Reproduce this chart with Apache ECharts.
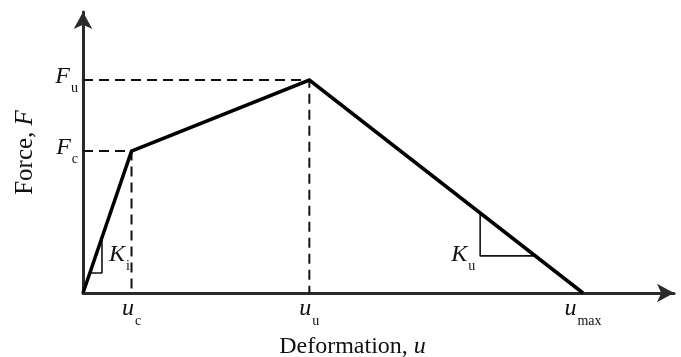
<!DOCTYPE html>
<html>
<head>
<meta charset="utf-8">
<script src="https://cdn.jsdelivr.net/npm/echarts@6/dist/echarts.min.js"></script>
<style>
  html, body { margin: 0; padding: 0; background: #fff; }
  #chart { width: 681px; height: 357px; }
</style>
</head>
<body>
<div id="chart"></div>
<script>
// Trilinear force–deformation backbone (schematic units, axes run 0–100)
const deformation = [0, 8.21, 38.3, 84.6];      // 0, u_c, u_u, u_max
const force       = [0, 50.5, 75.8, 0];         // 0, F_c, F_u, 0

// Characteristic points named on the axes
const xTickValues = [8.21, 38.3, 84.6];
const xTickNames  = [['u', 'c'], ['u', 'u'], ['u', 'max']];
const yTickValues = [50.5, 75.8];
const yTickNames  = [['F', 'c'], ['F', 'u']];

// Slope triangles: corner point, curve segment index, label
const slopeCornerX = [3.21, 67.2];
const slopeCornerY = [7.12, 13.2];
const slopeSegment = [0, 2];
const slopeNames   = [['K', 'i'], ['K', 'u']];

const FONT = 'Liberation Serif, Times New Roman, serif';
const INK = '#111';

// linear interpolation along one segment of the backbone
function yOnSegment(seg, x) {
  const x0 = deformation[seg], x1 = deformation[seg + 1];
  const y0 = force[seg], y1 = force[seg + 1];
  return y0 + (y1 - y0) * (x - x0) / (x1 - x0);
}
function xOnSegment(seg, y) {
  const x0 = deformation[seg], x1 = deformation[seg + 1];
  const y0 = force[seg], y1 = force[seg + 1];
  return x0 + (x1 - x0) * (y - y0) / (y1 - y0);
}

const backbone = deformation.map((x, i) => [x, force[i]]);

// dashed guides from each characteristic point to both axes
const guideSeries = [];
for (let i = 1; i <= 2; i++) {
  guideSeries.push({
    type: 'line', silent: true, symbol: 'none', z: 2,
    lineStyle: { color: INK, width: 2, type: [10, 6] },
    data: [[0, force[i]], [deformation[i], force[i]], [deformation[i], 0]]
  });
}

// slope triangles
const triangleSeries = slopeCornerX.map((cx, k) => {
  const cy = slopeCornerY[k];
  const seg = slopeSegment[k];
  return {
    type: 'line', silent: true, symbol: 'none', z: 3,
    lineStyle: { color: INK, width: 1.6 },
    data: [[cx, yOnSegment(seg, cx)], [cx, cy], [xOnSegment(seg, cy), cy]]
  };
});

// italic symbol with an upright subscript set below the baseline
const richText = {
  v: { fontFamily: FONT, fontStyle: 'italic', fontSize: 24, color: INK, verticalAlign: 'top' },
  s: { fontFamily: FONT, fontSize: 14, color: INK, verticalAlign: 'top', padding: [17, 0, 0, 1] }
};
const fmt = (pair) => '{v|' + pair[0] + '}{s|' + pair[1] + '}';

const slopeLabels = {
  type: 'scatter', silent: true, symbolSize: 0, z: 4,
  itemStyle: { opacity: 1 },
  data: slopeCornerX.map((cx, k) => ({
    value: [cx, slopeCornerY[k]],
    label: {
      show: true,
      color: INK,
      position: k === 0 ? 'right' : 'left',
      offset: k === 0 ? [2, -15] : [0, 2],
      formatter: fmt(slopeNames[k]),
      rich: richText
    }
  }))
};

const xLabelMap = {};
xTickValues.forEach((v, i) => { xLabelMap[v] = xTickNames[i]; });
const yLabelMap = {};
yTickValues.forEach((v, i) => { yLabelMap[v] = yTickNames[i]; });

const chart = echarts.init(document.getElementById('chart'), null, { renderer: 'canvas' });
chart.setOption({
  animation: false,
  backgroundColor: '#fff',
  grid: { left: 83, right: 7, top: 12, bottom: 64, containLabel: false, outerBoundsMode: 'none' },
  xAxis: {
    type: 'value', min: 0, max: 100,
    splitLine: { show: false },
    axisTick: { show: false },
    axisLine: {
      onZero: false,
      lineStyle: { color: '#2a2a2a', width: 3 },
      symbol: ['none', 'arrow'], symbolSize: [14, 17]
    },
    axisLabel: {
      customValues: xTickValues,
      margin: 4,
      color: INK,
      formatter: (v) => fmt(xLabelMap[v]),
      rich: richText
    },
    name: '{n|Deformation, }{v|u}',
    nameLocation: 'middle',
    nameGap: 42,
    nameTextStyle: {
      padding: [0, 52, 0, 0],
      rich: {
        n: { fontFamily: FONT, fontSize: 24, color: INK },
        v: { fontFamily: FONT, fontSize: 24, fontStyle: 'italic', color: INK }
      }
    }
  },
  yAxis: {
    type: 'value', min: 0, max: 100,
    splitLine: { show: false },
    axisTick: { show: false },
    axisLine: {
      onZero: false,
      lineStyle: { color: '#2a2a2a', width: 3 },
      symbol: ['none', 'arrow'], symbolSize: [14, 17]
    },
    axisLabel: {
      customValues: yTickValues,
      margin: 5,
      color: INK,
      formatter: (v) => fmt(yLabelMap[v]),
      rich: richText
    },
    name: '{n|Force, }{v|F}',
    nameLocation: 'middle',
    nameGap: 45,
    nameRotate: 90,
    nameTextStyle: {
      rich: {
        n: { fontFamily: FONT, fontSize: 25, color: INK },
        v: { fontFamily: FONT, fontSize: 25, fontStyle: 'italic', color: INK }
      }
    }
  },
  series: [
    ...guideSeries,
    ...triangleSeries,
    {
      type: 'line', silent: true, symbol: 'none', z: 5,
      lineStyle: { color: '#000', width: 3.5, join: 'miter' },
      data: backbone
    },
    slopeLabels
  ]
});
</script>
</body>
</html>
